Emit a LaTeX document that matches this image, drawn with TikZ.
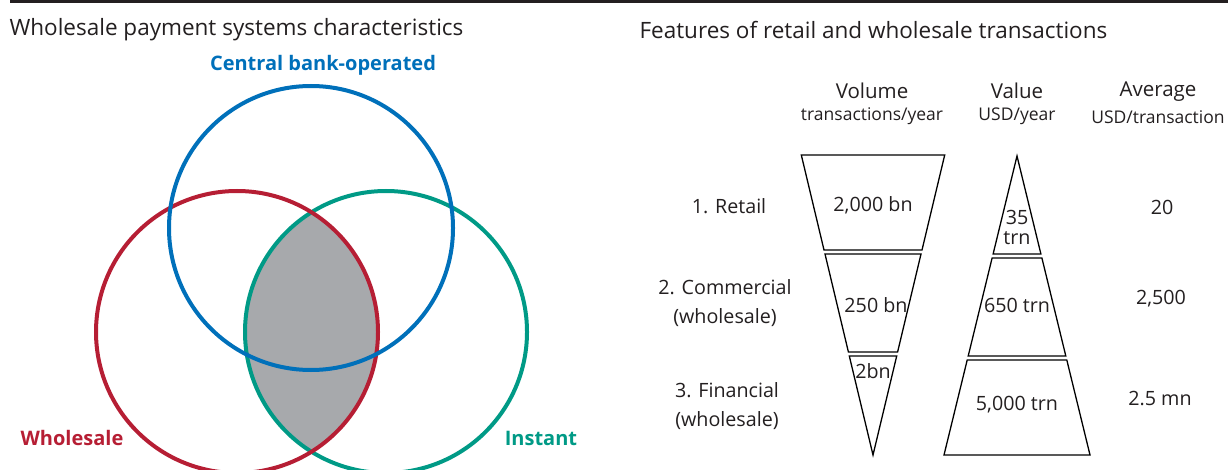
\documentclass[tikz,border=0pt]{standalone}
\usepackage{fontspec}
\setmainfont{Open Sans}
\usetikzlibrary{positioning}
\definecolor{cbblue}{RGB}{0,112,186}
\definecolor{wsred}{RGB}{182,30,52}
\definecolor{instteal}{RGB}{0,154,134}
\definecolor{lensgrey}{RGB}{167,169,172}
\definecolor{inkgrey}{RGB}{35,31,32}
\tikzset{
  ring/.style={circle, draw, line width=4pt, inner sep=0pt, minimum size=282pt},
  setlabel/.style={font=\bfseries\fontsize{20}{23}\selectfont},
  paneltitle/.style={anchor=west, text=inkgrey, font=\fontsize{22.5}{26}\selectfont},
  colhead/.style={text=inkgrey, font=\fontsize{20.5}{24}\selectfont},
  colunit/.style={text=inkgrey, inner sep=1pt, font=\fontsize{17.5}{20}\selectfont},
  rowlabel/.style={text=inkgrey, align=center, font=\fontsize{19.7}{29}\selectfont},
  cell/.style={text=inkgrey, inner sep=1pt, align=center, font=\fontsize{19.7}{19}\selectfont},
  piece/.style={draw, line width=1.3pt}
}
\begin{document}
\begin{tikzpicture}[x=1pt, y=-1pt]
  \useasboundingbox (0,0) rectangle (1228,470);
  \clip (0,0) rectangle (1228,470);
  \draw[line width=3pt, inkgrey] (10,1.5) -- (1228,1.5);

  % left panel: venn
  \node[paneltitle] (venntitle) at (6,30) {Wholesale payment systems characteristics};

  \begin{scope}
    \clip (237,332) circle (141);
    \fill[lensgrey] (386,332) circle (141);
  \end{scope}
  \node[ring, draw=instteal] (inst) at (386,332) {};
  \node[ring, draw=wsred] (whole) at (237,332) {};
  \node[ring, draw=cbblue, minimum size=284pt] (cbank) at (311,228) {};

  \node[setlabel, text=cbblue] (cblabel) at (323,65) {Central bank-operated};
  \node[setlabel, text=wsred] (wslabel) at (72,438) {Wholesale};
  \node[setlabel, text=instteal] (instlabel) at (541,438) {Instant};

  % right panel: volumes and values
  \node[paneltitle] (feattitle) at (636,30) {Features of retail and wholesale transactions};

  \node[colhead] (volhead) at (872,91) {Volume};
  \node[colunit, below=4pt of volhead] (volunit) {transactions/year};
  \node[colhead] (valhead) at (1017,91) {Value};
  \node[colunit, below=4pt of valhead] (valunit) {USD/year};
  \node[colhead] (avghead) at (1158,92) {Average};
  \node[colunit, below=4pt of avghead] (avgunit) {USD/transaction};

  \node[rowlabel] (retail) at (729,206) {1. Retail};
  \node[rowlabel] (commercial) at (725,303) {2. Commercial\\(wholesale)};
  \node[rowlabel] (financial) at (727,406) {3. Financial\\(wholesale)};

  % volume funnel
  \draw[piece] (801.3,155) -- (944.7,155) -- (922,250) -- (824,250) -- cycle;
  \draw[piece] (825,254) -- (921,254) -- (897.6,352) -- (848.4,352) -- cycle;
  \draw[piece] (849.3,356) -- (896.7,356) -- (873,455) -- cycle;
  \node[cell] (vol1) at (873,205) {2,000 bn};
  \node[cell] (vol2) at (876,305) {250 bn};
  \node[cell] (vol3) at (873,371) {2bn};

  % value pyramid
  \draw[piece] (1017,156) -- (1040.9,254) -- (993.1,254) -- cycle;
  \draw[piece] (992.1,258) -- (1041.9,258) -- (1065.8,356) -- (968.2,356) -- cycle;
  \draw[piece] (967.2,360) -- (1066.8,360) -- (1090,455) -- (944,455) -- cycle;
  \node[cell, font=\fontsize{19.7}{20}\selectfont] (val1) at (1017,227) {35\\trn};
  \node[cell] (val2) at (1017,305) {650 trn};
  \node[cell] (val3) at (1017,405) {5,000 trn};

  % averages
  \node[cell] (avg1) at (1162,207) {20};
  \node[cell] (avg2) at (1161,299) {2,500};
  \node[cell] (avg3) at (1160,399) {2.5 mn};
\end{tikzpicture}
\end{document}
